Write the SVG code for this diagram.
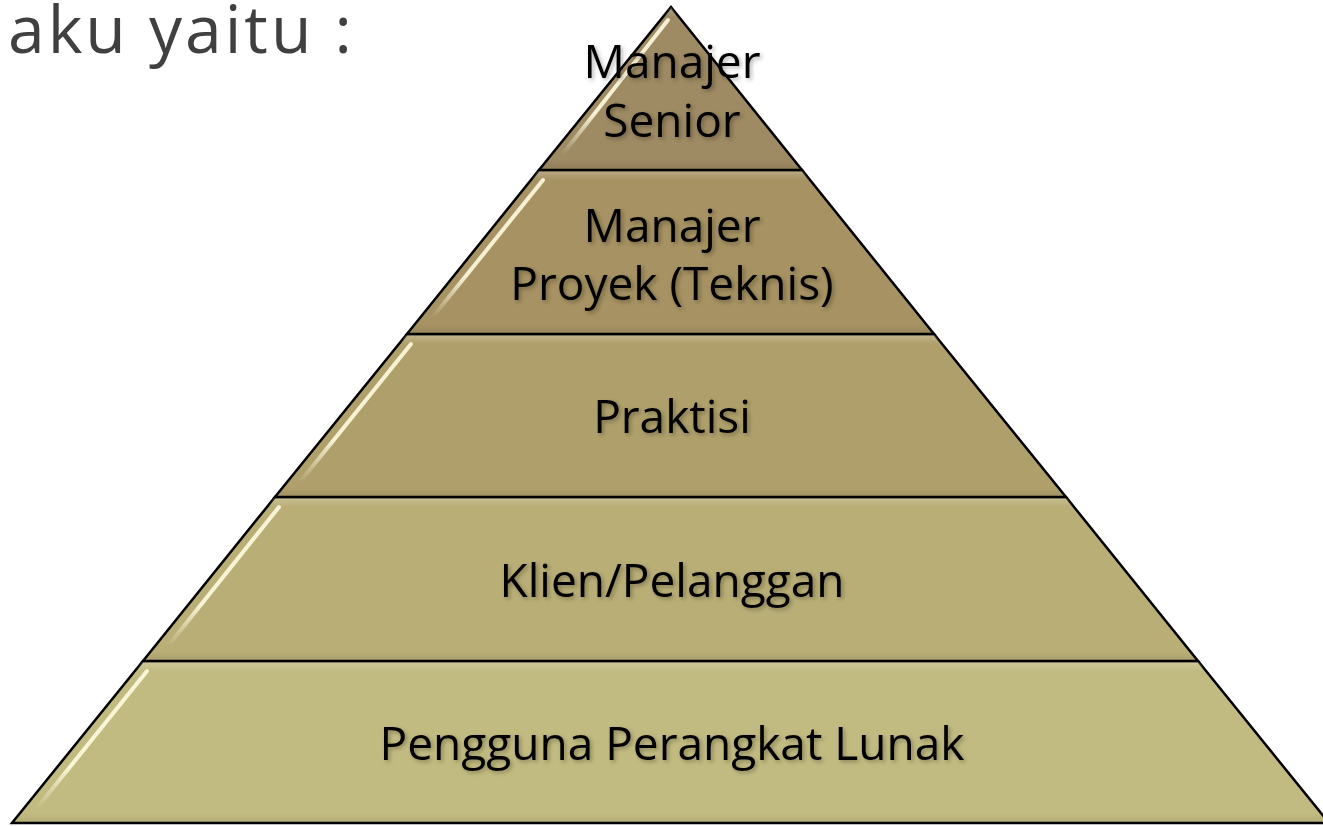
<svg xmlns="http://www.w3.org/2000/svg" width="1323" height="826" viewBox="0 0 1323 826">
<style>
.band{stroke:#000;stroke-width:2.5;stroke-linejoin:miter}
.lbl{font-family:"Open Sans","Liberation Sans",sans-serif;font-size:46px;fill:#000;text-anchor:middle;filter:url(#ts)}
.hl{fill:none;stroke:url(#hlg);stroke-width:4;stroke-linecap:round}
.title{font-family:"Open Sans","Liberation Sans",sans-serif;font-size:66px;fill:#404040;letter-spacing:3px}
</style>
<defs>
<filter id="ts" x="-10%" y="-20%" width="130%" height="150%">
<feDropShadow dx="2" dy="2" stdDeviation="2" flood-color="#000" flood-opacity="0.3"/>
</filter>
<linearGradient id="hlg" x1="0" y1="1" x2="0" y2="0">
<stop offset="0" stop-color="#fffbe0" stop-opacity="0"/>
<stop offset="0.3" stop-color="#fffbe0" stop-opacity="0.9"/>
<stop offset="1" stop-color="#fffbe0" stop-opacity="0.9"/>
</linearGradient>
<linearGradient id="edge" x1="0" y1="0" x2="0" y2="1">
<stop offset="0" stop-color="#fff" stop-opacity="0.25"/>
<stop offset="0.06" stop-color="#fff" stop-opacity="0"/>
<stop offset="0.94" stop-color="#000" stop-opacity="0"/>
<stop offset="1" stop-color="#000" stop-opacity="0.08"/>
</linearGradient>
</defs>
<rect width="1323" height="826" fill="#fff"/>
<text class="title" x="8" y="53">aku yaitu :</text>

<g id="band5">
<polygon class="band" points="143,661 1198,661 1329,823 12,823" fill="#c2bb81"/>
<polygon points="143,661 1198,661 1329,823 12,823" fill="url(#edge)"/>
<path class="hl" d="M147,671 L37,808"/>
<text class="lbl" x="672" y="760">Pengguna Perangkat Lunak</text>
</g>
<g id="band4">
<polygon class="band" points="275,497 1066,497 1198,661 143,661" fill="#b9ae76"/>
<polygon points="275,497 1066,497 1198,661 143,661" fill="url(#edge)"/>
<path class="hl" d="M279,507 L168,646"/>
<text class="lbl" x="672" y="597">Klien/Pelanggan</text>
</g>
<g id="band3">
<polygon class="band" points="407,334 934,334 1066,497 275,497" fill="#afa06b"/>
<polygon points="407,334 934,334 1066,497 275,497" fill="url(#edge)"/>
<path class="hl" d="M411,344 L300,482"/>
<text class="lbl" x="672" y="433">Praktisi</text>
</g>
<g id="band2">
<polygon class="band" points="539,170 802,170 934,334 407,334" fill="#a69262"/>
<polygon points="539,170 802,170 934,334 407,334" fill="url(#edge)"/>
<path class="hl" d="M543,180 L432,318"/>
<text class="lbl" x="672" y="242">Manajer</text>
<text class="lbl" x="672" y="300">Proyek (Teknis)</text>
</g>
<g id="band1">
<polygon class="band" points="671,7 802,170 539,170" fill="#9e8a63"/>
<polygon points="671,7 802,170 539,170" fill="url(#edge)"/>
<path class="hl" d="M668,20 L562,155"/>
<text class="lbl" x="672" y="78">Manajer</text>
<text class="lbl" x="672" y="137">Senior</text>
</g>
</svg>
